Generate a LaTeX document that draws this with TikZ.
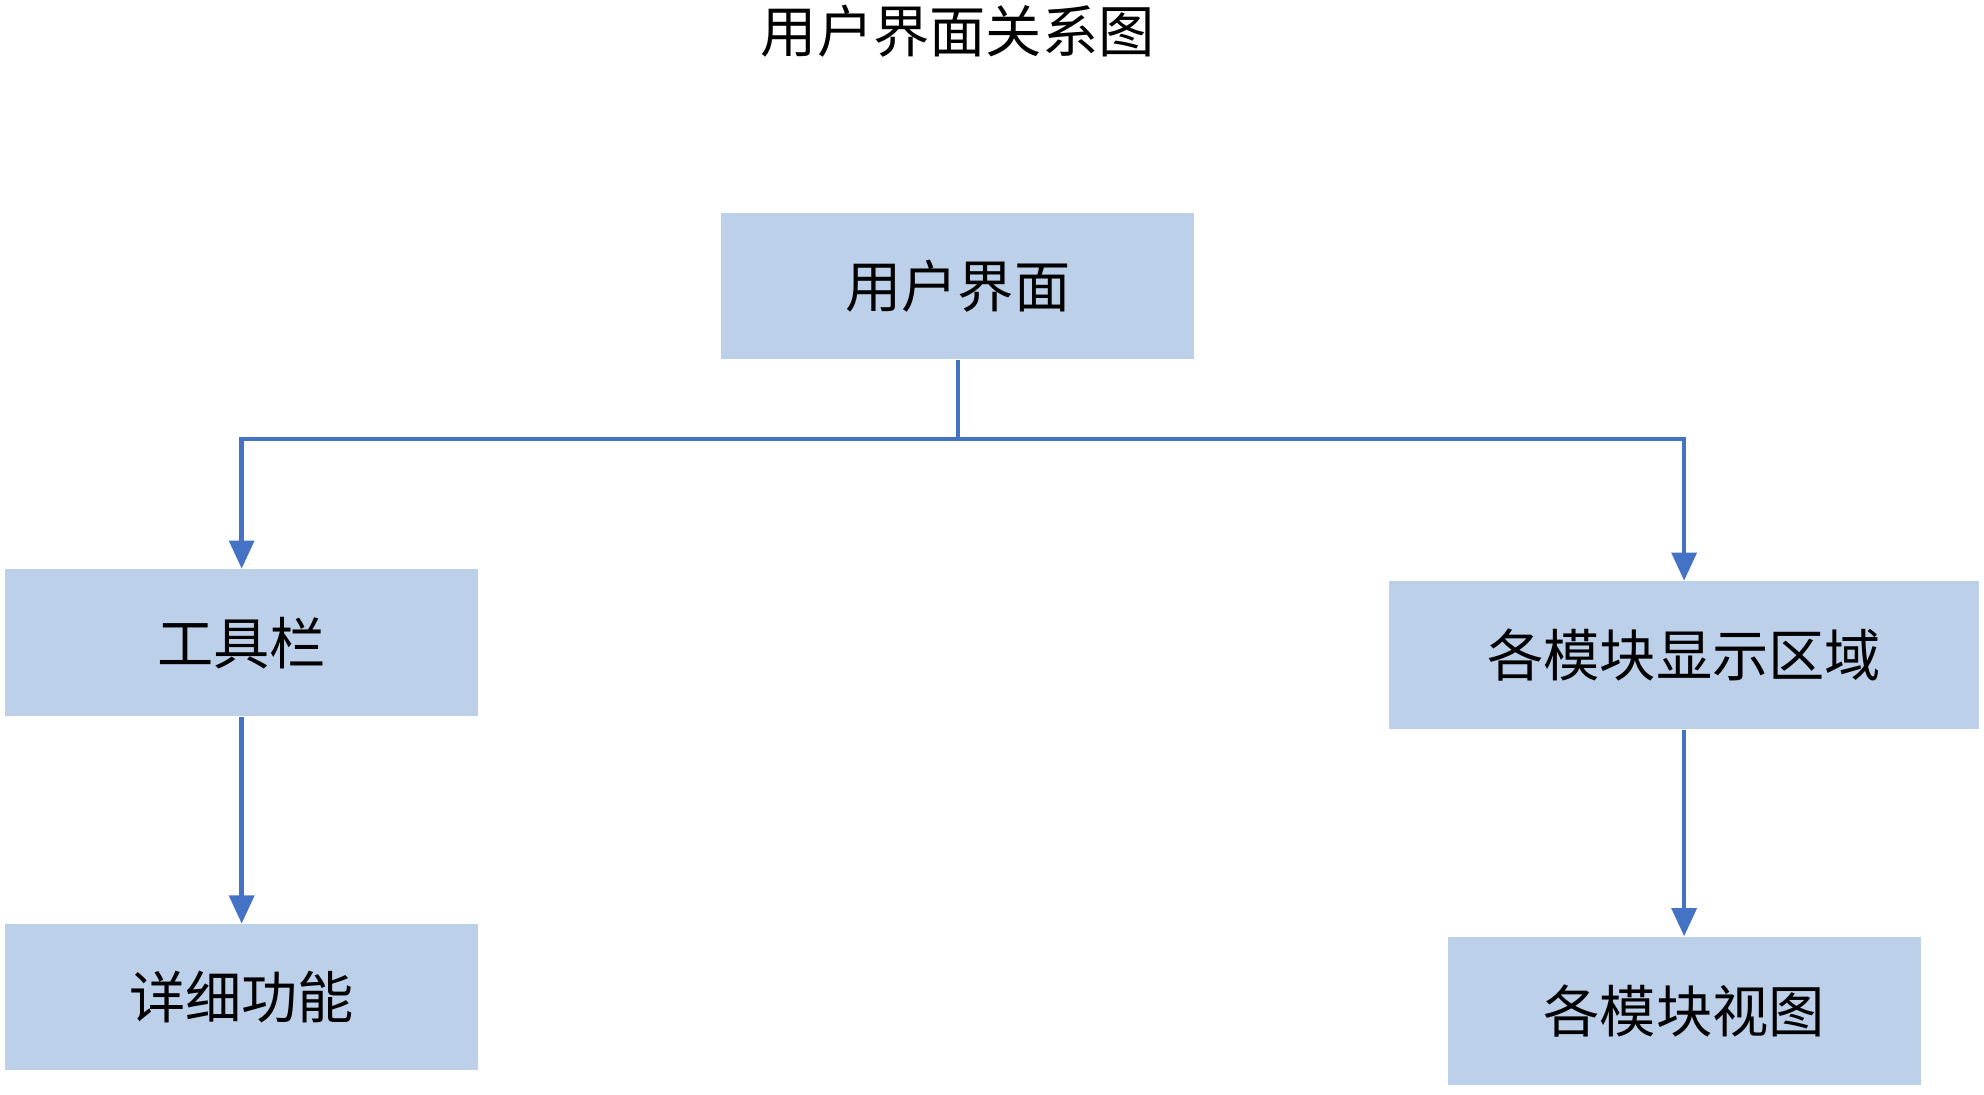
\documentclass[tikz,border=0pt]{standalone}
\usepackage{fontspec}
\setmainfont{Noto Sans CJK SC}
\usetikzlibrary{arrows.meta}
\definecolor{boxfill}{HTML}{BDD0EA}
\definecolor{arr}{HTML}{4472C4}
\begin{document}
\begin{tikzpicture}[x=0.01265cm,y=-0.01265cm,
  box/.style={fill=boxfill,draw=none,inner sep=0pt,font=\fontsize{16pt}{18pt}\selectfont},
  con/.style={draw=arr,line width=1.3pt},
  ar/.style={con,-{Triangle[width=7pt,length=8pt]}}]
\useasboundingbox (0,0) rectangle (1568,865);
\node[font=\fontsize{16pt}{18pt}\selectfont] (title) at (757,25) {用户界面关系图};
\node[box,minimum width=374*0.01265cm,minimum height=116*0.01265cm] (ui) at (757,226) {用户界面};
\node[box,minimum width=374*0.01265cm,minimum height=116*0.01265cm] (tb) at (191,508) {工具栏};
\node[box,minimum width=374*0.01265cm,minimum height=115*0.01265cm] (df) at (191,788) {详细功能};
\node[box,minimum width=466*0.01265cm,minimum height=117*0.01265cm] (md) at (1331,518) {各模块显示区域};
\node[box,minimum width=374*0.01265cm,minimum height=117*0.01265cm] (mv) at (1331,799) {各模块视图};
\coordinate (j) at (757,347);
\draw[con] (ui.south) -- (j);
\draw[ar] (j) -| (tb.north);
\draw[ar] (j) -| (md.north);
\draw[ar] (tb.south) -- (df.north);
\draw[ar] (md.south) -- (mv.north);
\end{tikzpicture}
\end{document}
